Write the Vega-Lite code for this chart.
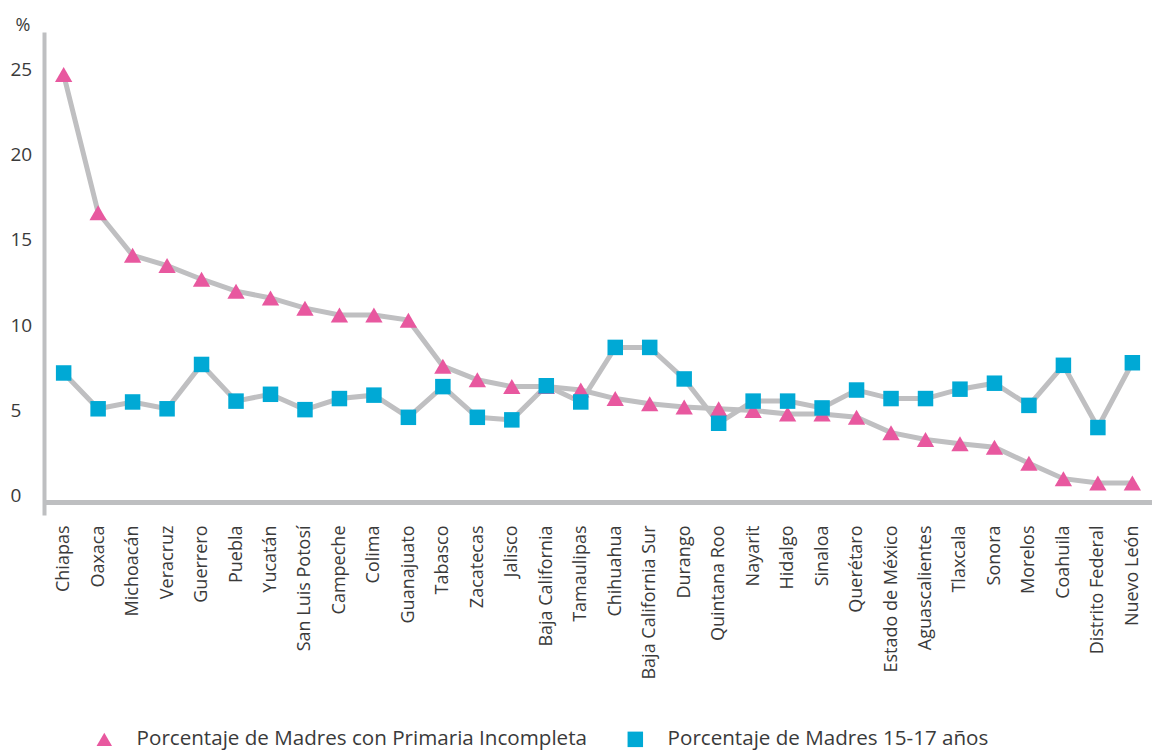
{
  "$schema": "https://vega.github.io/schema/vega-lite/v6.json",
  "width": 1108,
  "height": 483,
  "autosize": {"type": "none"},
  "padding": {"left": 44, "top": 32, "right": 0, "bottom": 237},
  "background": "white",
  "data": {"values": [
    {"estado": "Chiapas", "serie": "Porcentaje de Madres con Primaria Incompleta", "valor": 24.7},
    {"estado": "Oaxaca", "serie": "Porcentaje de Madres con Primaria Incompleta", "valor": 16.6},
    {"estado": "Michoacán", "serie": "Porcentaje de Madres con Primaria Incompleta", "valor": 14.1},
    {"estado": "Veracruz", "serie": "Porcentaje de Madres con Primaria Incompleta", "valor": 13.5},
    {"estado": "Guerrero", "serie": "Porcentaje de Madres con Primaria Incompleta", "valor": 12.7},
    {"estado": "Puebla", "serie": "Porcentaje de Madres con Primaria Incompleta", "valor": 12.0},
    {"estado": "Yucatán", "serie": "Porcentaje de Madres con Primaria Incompleta", "valor": 11.6},
    {"estado": "San Luis Potosí", "serie": "Porcentaje de Madres con Primaria Incompleta", "valor": 11.0},
    {"estado": "Campeche", "serie": "Porcentaje de Madres con Primaria Incompleta", "valor": 10.6},
    {"estado": "Colima", "serie": "Porcentaje de Madres con Primaria Incompleta", "valor": 10.6},
    {"estado": "Guanajuato", "serie": "Porcentaje de Madres con Primaria Incompleta", "valor": 10.3},
    {"estado": "Tabasco", "serie": "Porcentaje de Madres con Primaria Incompleta", "valor": 7.6},
    {"estado": "Zacatecas", "serie": "Porcentaje de Madres con Primaria Incompleta", "valor": 6.8},
    {"estado": "Jalisco", "serie": "Porcentaje de Madres con Primaria Incompleta", "valor": 6.4},
    {"estado": "Baja California", "serie": "Porcentaje de Madres con Primaria Incompleta", "valor": 6.4},
    {"estado": "Tamaulipas", "serie": "Porcentaje de Madres con Primaria Incompleta", "valor": 6.2},
    {"estado": "Chihuahua", "serie": "Porcentaje de Madres con Primaria Incompleta", "valor": 5.7},
    {"estado": "Baja California Sur", "serie": "Porcentaje de Madres con Primaria Incompleta", "valor": 5.4},
    {"estado": "Durango", "serie": "Porcentaje de Madres con Primaria Incompleta", "valor": 5.2},
    {"estado": "Quintana Roo", "serie": "Porcentaje de Madres con Primaria Incompleta", "valor": 5.1},
    {"estado": "Nayarit", "serie": "Porcentaje de Madres con Primaria Incompleta", "valor": 5.0},
    {"estado": "Hidalgo", "serie": "Porcentaje de Madres con Primaria Incompleta", "valor": 4.8},
    {"estado": "Sinaloa", "serie": "Porcentaje de Madres con Primaria Incompleta", "valor": 4.8},
    {"estado": "Querétaro", "serie": "Porcentaje de Madres con Primaria Incompleta", "valor": 4.6},
    {"estado": "Estado de México", "serie": "Porcentaje de Madres con Primaria Incompleta", "valor": 3.7},
    {"estado": "Aguascalientes", "serie": "Porcentaje de Madres con Primaria Incompleta", "valor": 3.3},
    {"estado": "Tlaxcala", "serie": "Porcentaje de Madres con Primaria Incompleta", "valor": 3.05},
    {"estado": "Sonora", "serie": "Porcentaje de Madres con Primaria Incompleta", "valor": 2.85},
    {"estado": "Morelos", "serie": "Porcentaje de Madres con Primaria Incompleta", "valor": 1.9},
    {"estado": "Coahuila", "serie": "Porcentaje de Madres con Primaria Incompleta", "valor": 1.0},
    {"estado": "Distrito Federal", "serie": "Porcentaje de Madres con Primaria Incompleta", "valor": 0.75},
    {"estado": "Nuevo León", "serie": "Porcentaje de Madres con Primaria Incompleta", "valor": 0.75},
    {"estado": "Chiapas", "serie": "Porcentaje de Madres 15-17 años", "valor": 7.2},
    {"estado": "Oaxaca", "serie": "Porcentaje de Madres 15-17 años", "valor": 5.1},
    {"estado": "Michoacán", "serie": "Porcentaje de Madres 15-17 años", "valor": 5.5},
    {"estado": "Veracruz", "serie": "Porcentaje de Madres 15-17 años", "valor": 5.1},
    {"estado": "Guerrero", "serie": "Porcentaje de Madres 15-17 años", "valor": 7.7},
    {"estado": "Puebla", "serie": "Porcentaje de Madres 15-17 años", "valor": 5.55},
    {"estado": "Yucatán", "serie": "Porcentaje de Madres 15-17 años", "valor": 5.95},
    {"estado": "San Luis Potosí", "serie": "Porcentaje de Madres 15-17 años", "valor": 5.05},
    {"estado": "Campeche", "serie": "Porcentaje de Madres 15-17 años", "valor": 5.7},
    {"estado": "Colima", "serie": "Porcentaje de Madres 15-17 años", "valor": 5.9},
    {"estado": "Guanajuato", "serie": "Porcentaje de Madres 15-17 años", "valor": 4.6},
    {"estado": "Tabasco", "serie": "Porcentaje de Madres 15-17 años", "valor": 6.4},
    {"estado": "Zacatecas", "serie": "Porcentaje de Madres 15-17 años", "valor": 4.6},
    {"estado": "Jalisco", "serie": "Porcentaje de Madres 15-17 años", "valor": 4.45},
    {"estado": "Baja California", "serie": "Porcentaje de Madres 15-17 años", "valor": 6.45},
    {"estado": "Tamaulipas", "serie": "Porcentaje de Madres 15-17 años", "valor": 5.5},
    {"estado": "Chihuahua", "serie": "Porcentaje de Madres 15-17 años", "valor": 8.7},
    {"estado": "Baja California Sur", "serie": "Porcentaje de Madres 15-17 años", "valor": 8.7},
    {"estado": "Durango", "serie": "Porcentaje de Madres 15-17 años", "valor": 6.85},
    {"estado": "Quintana Roo", "serie": "Porcentaje de Madres 15-17 años", "valor": 4.25},
    {"estado": "Nayarit", "serie": "Porcentaje de Madres 15-17 años", "valor": 5.55},
    {"estado": "Hidalgo", "serie": "Porcentaje de Madres 15-17 años", "valor": 5.55},
    {"estado": "Sinaloa", "serie": "Porcentaje de Madres 15-17 años", "valor": 5.15},
    {"estado": "Querétaro", "serie": "Porcentaje de Madres 15-17 años", "valor": 6.2},
    {"estado": "Estado de México", "serie": "Porcentaje de Madres 15-17 años", "valor": 5.7},
    {"estado": "Aguascalientes", "serie": "Porcentaje de Madres 15-17 años", "valor": 5.7},
    {"estado": "Tlaxcala", "serie": "Porcentaje de Madres 15-17 años", "valor": 6.25},
    {"estado": "Sonora", "serie": "Porcentaje de Madres 15-17 años", "valor": 6.6},
    {"estado": "Morelos", "serie": "Porcentaje de Madres 15-17 años", "valor": 5.3},
    {"estado": "Coahuila", "serie": "Porcentaje de Madres 15-17 años", "valor": 7.65},
    {"estado": "Distrito Federal", "serie": "Porcentaje de Madres 15-17 años", "valor": 4.0},
    {"estado": "Nuevo León", "serie": "Porcentaje de Madres 15-17 años", "valor": 7.8}
  ]},
  "encoding": {
    "x": {
      "field": "estado", "type": "nominal", "sort": null,
      "scale": {"type": "point", "padding": 0.57},
      "axis": {
        "title": null, "domain": false, "ticks": false, "tickSize": 0,
        "labelAngle": -90, "labelPadding": 10, "labelFontSize": 18,
        "labelColor": "#3a3a3a", "labelFont": "Open Sans", "labelLimit": 0
      }
    },
    "y": {
      "field": "valor", "type": "quantitative",
      "scale": {"domain": [-1.13, 27.2], "nice": false, "zero": false},
      "axis": {
        "values": [0, 5, 10, 15, 20, 25], "grid": false, "ticks": false, "tickSize": 0,
        "domainColor": "#bebfc1", "domainWidth": 4,
        "labelAlign": "left", "labelPadding": 34, "labelFontSize": 19,
        "labelColor": "#3a3a3a", "labelFont": "Open Sans",
        "title": "%", "titleAngle": 0, "titleAlign": "left", "titleBaseline": "middle",
        "titleX": -29, "titleY": -7, "titleFontSize": 18, "titleFontWeight": "normal",
        "titleColor": "#3a3a3a", "titleFont": "Open Sans"
      }
    }
  },
  "layer": [
    {
      "mark": {"type": "rule", "color": "#bebfc1", "strokeWidth": 5},
      "encoding": {"x": null, "y": {"datum": -0.4}}
    },
    {
      "mark": {"type": "line", "color": "#bfbfc1", "strokeWidth": 5},
      "encoding": {"detail": {"field": "serie"}, "order": {"value": null}}
    },
    {
      "transform": [{"filter": "datum.serie === 'Porcentaje de Madres con Primaria Incompleta'"}],
      "mark": {"type": "point", "filled": true, "opacity": 1, "size": 300},
      "encoding": {
        "shape": {"field": "serie", "type": "nominal",
          "scale": {"domain": ["Porcentaje de Madres con Primaria Incompleta", "Porcentaje de Madres 15-17 años"], "range": ["triangle-up", "square"]}},
        "color": {"field": "serie", "type": "nominal",
          "scale": {"domain": ["Porcentaje de Madres con Primaria Incompleta", "Porcentaje de Madres 15-17 años"], "range": ["#e8589f", "#00a9d5"]}}
      }
    },
    {
      "transform": [{"filter": "datum.serie === 'Porcentaje de Madres 15-17 años'"}],
      "mark": {"type": "point", "filled": true, "opacity": 1, "size": 240},
      "encoding": {
        "shape": {"field": "serie", "type": "nominal",
          "scale": {"domain": ["Porcentaje de Madres con Primaria Incompleta", "Porcentaje de Madres 15-17 años"], "range": ["triangle-up", "square"]}},
        "color": {"field": "serie", "type": "nominal",
          "scale": {"domain": ["Porcentaje de Madres con Primaria Incompleta", "Porcentaje de Madres 15-17 años"], "range": ["#e8589f", "#00a9d5"]}}
      }
    }
  ],
  "resolve": {"scale": {"color": "shared", "shape": "shared"}},
  "config": {
    "view": {"stroke": null},
    "font": "Open Sans",
    "legend": {
      "title": null, "orient": "none", "direction": "horizontal",
      "legendX": 50, "legendY": 697,
      "labelFontSize": 20.6, "labelFont": "Open Sans", "labelColor": "#3a3a3a", "labelLimit": 0,
      "symbolSize": 240, "labelOffset": 22, "columnPadding": 38,
      "symbolStrokeWidth": 0, "symbolOpacity": 1
    }
  }
}
